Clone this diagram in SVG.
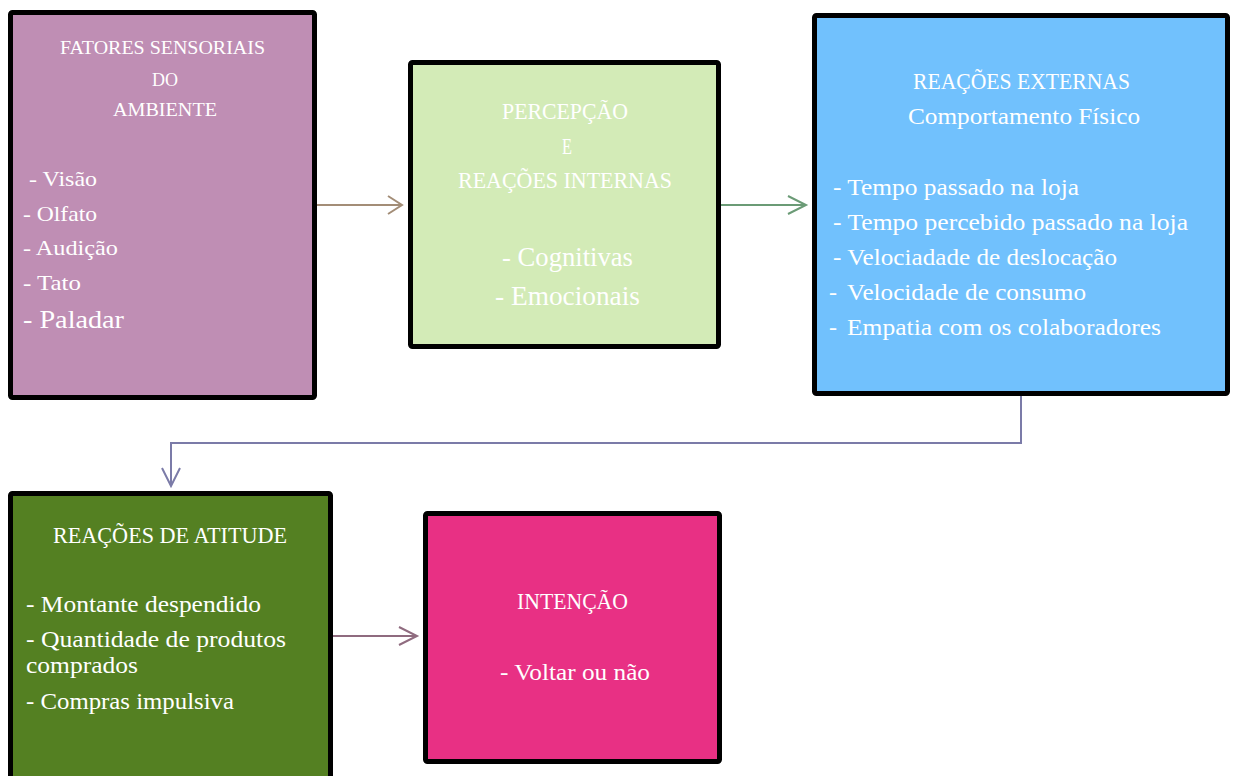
<svg xmlns="http://www.w3.org/2000/svg" width="1233" height="776" viewBox="0 0 1233 776">
<style>
.box{stroke:#000;stroke-width:5}
text{font-family:"Liberation Serif","DejaVu Serif",serif;fill:#fff}
.c{fill:none;stroke-width:2}
</style>
<rect width="1233" height="776" fill="#fff"/>
<g id="connectors">
<path class="c" stroke="#A38D77" d="M317 205H402M388 196L402 205L388 214"/>
<path class="c" stroke="#6B9B76" d="M721 205H806M788 196L806 205L788 214"/>
<path class="c" stroke="#7B7BA8" d="M1021 396V443H171V486M162 468L171 486L180 468"/>
<path class="c" stroke="#8F6B7F" d="M333 636H417M399 627L417 636L399 645"/>
</g>
<g id="n1">
<rect class="box" x="10.5" y="12.5" width="304" height="385" rx="2" fill="#BF8EB4"/>
<text x="60" y="54" font-size="19" textLength="205" lengthAdjust="spacingAndGlyphs">FATORES SENSORIAIS</text>
<text x="152" y="86" font-size="19" textLength="26" lengthAdjust="spacingAndGlyphs">DO</text>
<text x="113" y="116" font-size="19" textLength="104" lengthAdjust="spacingAndGlyphs">AMBIENTE</text>
<text x="29" y="186" font-size="22" textLength="68" lengthAdjust="spacingAndGlyphs">- Visão</text>
<text x="23" y="221" font-size="22" textLength="74" lengthAdjust="spacingAndGlyphs">- Olfato</text>
<text x="23" y="255" font-size="22" textLength="95" lengthAdjust="spacingAndGlyphs">- Audição</text>
<text x="23" y="290" font-size="22" textLength="58" lengthAdjust="spacingAndGlyphs">- Tato</text>
<text x="23" y="328" font-size="25" textLength="101" lengthAdjust="spacingAndGlyphs">- Paladar</text>
</g>
<g id="n2">
<rect class="box" x="410.5" y="62.5" width="308" height="284" rx="2" fill="#D3EBB7"/>
<text x="502" y="119" font-size="24" textLength="126" lengthAdjust="spacingAndGlyphs">PERCEPÇÃO</text>
<text x="562" y="154" font-size="24" textLength="10" lengthAdjust="spacingAndGlyphs">E</text>
<text x="458" y="188" font-size="24" textLength="214" lengthAdjust="spacingAndGlyphs">REAÇÕES INTERNAS</text>
<text x="502" y="266" font-size="28" textLength="131" lengthAdjust="spacingAndGlyphs">- Cognitivas</text>
<text x="495" y="305" font-size="28" textLength="145" lengthAdjust="spacingAndGlyphs">- Emocionais</text>
</g>
<g id="n3">
<rect class="box" x="814.5" y="15.5" width="413" height="378" rx="2" fill="#71C1FD"/>
<text x="913" y="89" font-size="24" textLength="217" lengthAdjust="spacingAndGlyphs">REAÇÕES EXTERNAS</text>
<text x="908" y="124" font-size="24" textLength="232" lengthAdjust="spacingAndGlyphs">Comportamento Físico</text>
<text x="833" y="195" font-size="24" textLength="246" lengthAdjust="spacingAndGlyphs">- Tempo passado na loja</text>
<text x="833" y="230" font-size="24" textLength="355" lengthAdjust="spacingAndGlyphs">- Tempo percebido passado na loja</text>
<text x="833" y="265" font-size="24" textLength="284" lengthAdjust="spacingAndGlyphs">- Velociadade de deslocação</text>
<text x="829" y="300" font-size="24" xml:space="preserve">-  <tspan x="847" textLength="239" lengthAdjust="spacingAndGlyphs">Velocidade de consumo</tspan></text>
<text x="829" y="335" font-size="24" xml:space="preserve">-  <tspan x="847" textLength="314" lengthAdjust="spacingAndGlyphs">Empatia com os colaboradores</tspan></text>
</g>
<g id="n4">
<rect class="box" x="10.5" y="493.5" width="320" height="290" rx="2" fill="#548022"/>
<text x="53" y="543" font-size="23" textLength="234" lengthAdjust="spacingAndGlyphs">REAÇÕES DE ATITUDE</text>
<text x="26" y="612" font-size="23" textLength="235" lengthAdjust="spacingAndGlyphs">- Montante despendido</text>
<text x="26" y="647" font-size="23" textLength="260" lengthAdjust="spacingAndGlyphs">- Quantidade de produtos</text>
<text x="26" y="673" font-size="23" textLength="112" lengthAdjust="spacingAndGlyphs">comprados</text>
<text x="26" y="709" font-size="23" textLength="208" lengthAdjust="spacingAndGlyphs">- Compras impulsiva</text>
</g>
<g id="n5">
<rect class="box" x="425.5" y="513.5" width="294" height="248" rx="2" fill="#E83084"/>
<text x="517" y="609" font-size="23" textLength="111" lengthAdjust="spacingAndGlyphs">INTENÇÃO</text>
<text x="500" y="680" font-size="23" textLength="150" lengthAdjust="spacingAndGlyphs">- Voltar ou não</text>
</g>
</svg>
